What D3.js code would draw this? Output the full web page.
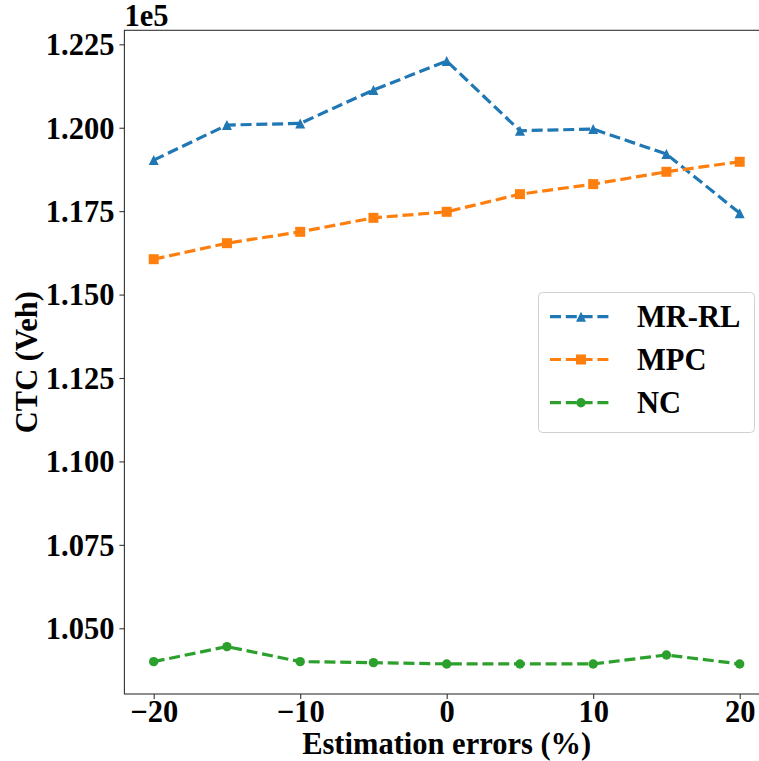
<!DOCTYPE html>
<html>
<head>
<meta charset="utf-8">
<script src="https://cdn.jsdelivr.net/npm/d3@7/dist/d3.min.js"></script>
<style>
  html, body { margin: 0; padding: 0; background: #fff; }
  svg { display: block; }
  text { font-family: "Liberation Serif", "Times New Roman", serif; font-weight: bold; fill: #000; }
</style>
</head>
<body>
<svg id="chart" width="759" height="761"></svg>
<script>
// ---- data ----
const errors = [-20, -15, -10, -5, 0, 5, 10, 15, 20];
const mrrl = [119030, 120080, 120130, 121130, 122000, 119910, 119960, 119210, 117440];
const mpc  = [116060, 116540, 116880, 117300, 117480, 118010, 118310, 118680, 118980];
const nc   = [104000, 104450, 104000, 103970, 103930, 103930, 103930, 104200, 103930];
const seriesNames = ["MR-RL", "MPC", "NC"];
const seriesColors = ["#1f77b4", "#ff7f0e", "#2ca02c"];
const seriesMarkers = ["triangle", "square", "circle"];
const xTicks = [-20, -10, 0, 10, 20];
const yTicks = [105000, 107500, 110000, 112500, 115000, 117500, 120000, 122500];
const xLabel = "Estimation errors (%)";
const yLabel = "CTC (Veh)";
const offsetText = "1e5";

// ---- layout ----
const svg = d3.select("#chart");
const mLeft = 124.4, mRight = 769, mTop = 30.3, mBottom = 694;
const x = d3.scaleLinear().domain([-22, 22]).range([mLeft, mRight]);
const y = d3.scaleLinear().domain([103030, 122920]).range([mBottom, mTop]);

const fontSize = 30.5;

// axes
const xAxis = d3.axisBottom(x).tickValues(xTicks).tickSize(5).tickPadding(5)
  .tickFormat(d => d < 0 ? "\u2212" + Math.abs(d) : String(d));
const yAxis = d3.axisLeft(y).tickValues(yTicks).tickSize(5).tickPadding(5)
  .tickFormat(d => (d / 1e5).toFixed(3));

const gx = svg.append("g").attr("transform", `translate(0,${mBottom})`).call(xAxis);
const gy = svg.append("g").attr("transform", `translate(${mLeft},0)`).call(yAxis);
[gx, gy].forEach(g => {
  g.select(".domain").remove();
  g.selectAll(".tick line").attr("stroke", "#333").attr("stroke-width", 1.1);
  g.selectAll(".tick text").style("font-size", fontSize + "px").style("font-family", '"Liberation Serif", serif').style("font-weight", "bold").attr("fill", "#000");
});
gy.selectAll(".tick text").attr("dy", "0.34em");
gx.selectAll(".tick text").attr("dy", "0.58em");

// frame
svg.append("rect").attr("x", mLeft).attr("y", mTop).attr("width", mRight - mLeft).attr("height", mBottom - mTop)
  .attr("fill", "none").attr("stroke", "#333").attr("stroke-width", 1.1);

// offset text
svg.append("text").attr("x", mLeft).attr("y", 26).style("font-size", fontSize + "px").text(offsetText);

// labels
svg.append("text").attr("x", (mLeft + mRight) / 2).attr("y", 754).attr("text-anchor", "middle")
  .style("font-size", fontSize + "px").text(xLabel);
svg.append("text").attr("transform", `translate(37,${(mTop + mBottom) / 2}) rotate(-90)`).attr("text-anchor", "middle")
  .style("font-size", fontSize + "px").text(yLabel);

// series
const ms = 10;
function drawMarker(g, type, cx, cy, color) {
  if (type === "triangle") {
    const h = ms / 2;
    g.append("path").attr("d", `M${cx},${cy - h}L${cx - h},${cy + h}L${cx + h},${cy + h}Z`).attr("fill", color);
  } else if (type === "square") {
    g.append("rect").attr("x", cx - ms / 2).attr("y", cy - ms / 2).attr("width", ms).attr("height", ms).attr("fill", color);
  } else {
    g.append("circle").attr("cx", cx).attr("cy", cy).attr("r", ms / 2 - 0.3).attr("fill", color);
  }
}
const allSeries = [mrrl, mpc, nc];
const line = d3.line().x((d, i) => x(errors[i])).y(d => y(d));
const plot = svg.append("g");
allSeries.forEach((vals, k) => {
  plot.append("path").datum(vals).attr("d", line).attr("fill", "none")
    .attr("stroke", seriesColors[k]).attr("stroke-width", 3.2).attr("stroke-dasharray", "11,4.8");
  vals.forEach((v, i) => drawMarker(plot, seriesMarkers[k], x(errors[i]), y(v), seriesColors[k]));
});

// legend
const lg = svg.append("g");
lg.append("rect").attr("x", 538.5).attr("y", 292.5).attr("width", 216).attr("height", 140).attr("rx", 4)
  .attr("fill", "#fff").attr("fill-opacity", 0.8).attr("stroke", "#d0d0d0").attr("stroke-width", 1);
const rowY = [316.7, 359.5, 402.7];
seriesNames.forEach((name, k) => {
  lg.append("line").attr("x1", 550).attr("x2", 612).attr("y1", rowY[k]).attr("y2", rowY[k])
    .attr("stroke", seriesColors[k]).attr("stroke-width", 3.2).attr("stroke-dasharray", "11,4.8");
  drawMarker(lg, seriesMarkers[k], 581, rowY[k], seriesColors[k]);
  lg.append("text").attr("x", 637).attr("y", rowY[k]).attr("dy", "0.35em").style("font-size", fontSize + "px").text(name);
});
</script>
</body>
</html>
